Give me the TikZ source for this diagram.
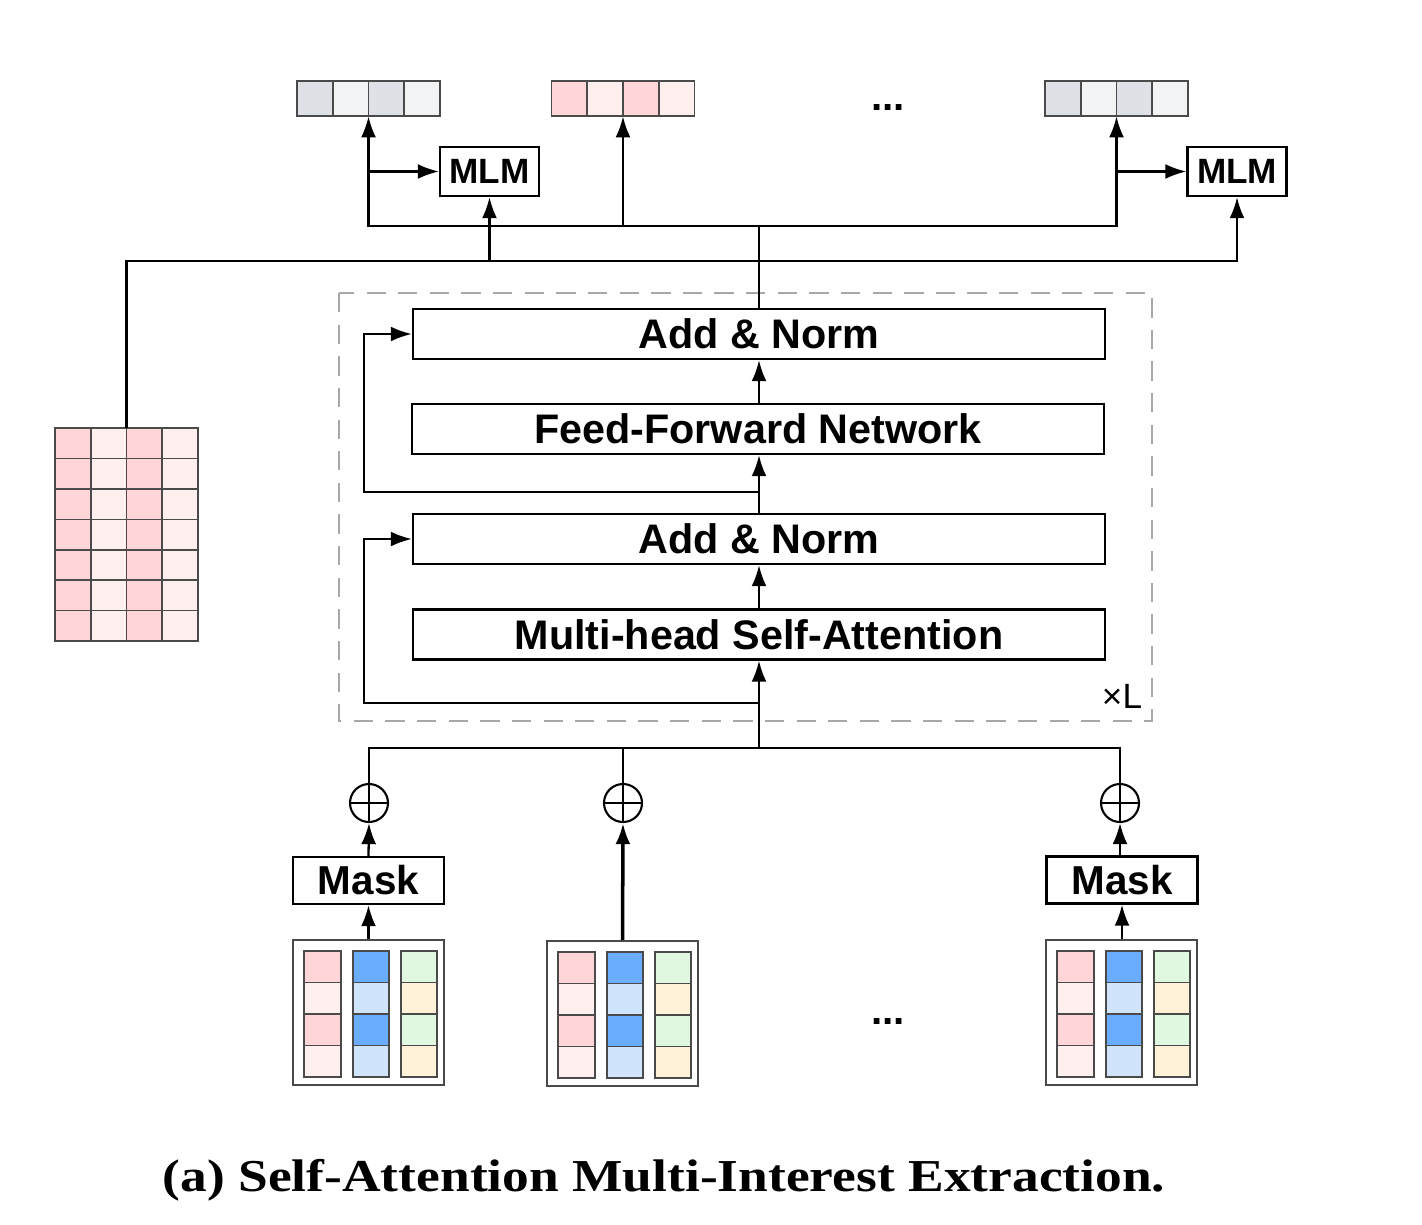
\documentclass[tikz,border=0pt]{standalone}
\usepackage{fontspec}
\setsansfont{Liberation Sans}
\newfontfamily\capfont{Liberation Serif}
\usetikzlibrary{arrows.meta}

\definecolor{grayD}{HTML}{DEE1E6}
\definecolor{grayL}{HTML}{F1F3F4}
\definecolor{pinkD}{HTML}{FFD5D8}
\definecolor{pinkL}{HTML}{FFEFEF}
\definecolor{blueD}{HTML}{6AADFF}
\definecolor{blueL}{HTML}{D0E4FC}
\definecolor{greenL}{HTML}{E1F8E0}
\definecolor{yellowL}{HTML}{FFF2D8}
\definecolor{cellline}{HTML}{4A4A4A}
\definecolor{dashgray}{HTML}{A8A8A8}

\newcommand{\pxu}{0.02cm}

\tikzset{
  wire/.style={line width=1.3pt},
  arr/.style={wire,-{Latex[length=12pt,width=8.5pt]}},
  blk/.style={draw,line width=1.3pt,fill=white,inner sep=0pt,
    font=\sffamily\bfseries\fontsize{23.5}{28}\selectfont,
    minimum width=692*\pxu,minimum height=50*\pxu},
  mlm/.style={draw,line width=1.3pt,fill=white,inner sep=0pt,
    font=\sffamily\bfseries\fontsize{20}{24}\selectfont,
    minimum width=99*\pxu,minimum height=49*\pxu},
  mask/.style={draw,line width=1.3pt,fill=white,inner sep=0pt,
    font=\sffamily\bfseries\fontsize{23}{27}\selectfont,
    minimum width=151*\pxu,minimum height=47*\pxu},
  plus/.style={circle,draw,line width=1.2pt,inner sep=0pt,minimum size=38*\pxu,
    path picture={\draw[line width=1.2pt] (path picture bounding box.north) -- (path picture bounding box.south)
      (path picture bounding box.west) -- (path picture bounding box.east);}},
  cell/.style={draw=cellline,line width=0.9pt},
  tilebox/.style={draw=cellline,line width=0.9pt,fill=white,inner sep=0pt,
    minimum width=151*\pxu,minimum height=145*\pxu},
  vec/.style={inner sep=0pt,minimum width=143*\pxu,minimum height=35*\pxu},
  dots/.style={font=\sffamily\bfseries\fontsize{23}{27}\selectfont}
}

\begin{document}
\begin{tikzpicture}[x=\pxu,y=-\pxu]
  \useasboundingbox (0,0) rectangle (1422,1224);

  % output vectors
  \node[vec] (vecA) at (368.5,98.5) {};
  \node[vec] (vecB) at (623,98.5) {};
  \node[vec] (vecC) at (1116.5,98.5) {};
  \foreach \i/\c in {0/grayD,1/grayL,2/grayD,3/grayL} {
    \draw[cell,fill=\c] (297+\i*35.75,81) rectangle ++(35.75,35);
    \draw[cell,fill=\c] (1045+\i*35.75,81) rectangle ++(35.75,35);
  }
  \foreach \i/\c in {0/pinkD,1/pinkL,2/pinkD,3/pinkL}
    \draw[cell,fill=\c] (551.5+\i*35.75,81) rectangle ++(35.75,35);
  \node[dots] (dotsT) at (888,107) {...};

  \node[mlm] (mlmL) at (489.5,171.5) {MLM};
  \node[mlm] (mlmR) at (1237,171.5) {MLM};

  % item matrix
  \node[inner sep=0pt,minimum width=143*\pxu,minimum height=213*\pxu] (mat) at (126.5,534.5) {};
  \foreach \i/\c in {0/pinkD,1/pinkL,2/pinkD,3/pinkL}
    \foreach \j in {0,...,6}
      \draw[cell,fill=\c] (55+\i*35.75,428+\j*30.43) rectangle ++(35.75,30.43);

  % encoder layer
  \draw[dashgray,line width=1.1pt,dash pattern=on 11pt off 7pt] (339,293) rectangle (1152,721);
  \node[blk] (an2) at (759,334) {Add \& Norm};
  \node[blk] (ffn) at (758,429) {Feed-Forward Network};
  \node[blk] (an1) at (759,539) {Add \& Norm};
  \node[blk] (mhsa) at (759,634.5) {Multi-head Self-Attention};
  \node[font=\sffamily\fontsize{20}{24}\selectfont] (times) at (1122,696) {×L};

  % input tiles
  \foreach \nm/\tx/\ty in {tileL/293/940,tileM/547/941,tileR/1046/940} {
    \node[tilebox] (\nm) at (\tx+75.5,\ty+72.5) {};
    \foreach \j/\ca/\cb/\cc in {0/pinkD/blueD/greenL,1/pinkL/blueL/yellowL,2/pinkD/blueD/greenL,3/pinkL/blueL/yellowL} {
      \draw[cell,fill=\ca] (\tx+11,\ty+11+\j*31.5) rectangle ++(37,31.5);
      \draw[cell,fill=\cb] (\tx+60,\ty+11+\j*31.5) rectangle ++(36,31.5);
      \draw[cell,fill=\cc] (\tx+108,\ty+11+\j*31.5) rectangle ++(36,31.5);
    }
  }
  \node[dots] (dotsB) at (888,1021) {...};

  \node[mask] (maskL) at (368.5,880.5) {Mask};
  \node[mask] (maskR) at (1122,880) {Mask};
  \node[plus] (plusL) at (369,803) {};
  \node[plus] (plusM) at (623,803) {};
  \node[plus] (plusR) at (1120,803) {};

  % bottom connectors
  \draw[arr] (tileL.north) -- (maskL.south);
  \draw[arr] (maskL.north) -- (plusL.south);
  \draw[arr] (tileR.north -| maskR.south) -- (maskR.south);
  \draw[arr] (maskR.north -| plusR.south) -- (plusR.south);
  \draw[arr,line width=2pt] (tileM.north) -- (plusM.south);
  \coordinate (bus) at (759,748);
  \draw[wire] (plusL.north) |- (bus);
  \draw[wire] (plusR.north) |- (bus);
  \draw[wire] (plusM.north) -- (plusM.north |- bus);
  \draw[arr] (bus) -- (mhsa.south);

  % layer connectors
  \coordinate (r1) at (759,703);
  \coordinate (s1) at (364,703);
  \draw[arr] (r1) -- (s1) |- (an1.west);
  \draw[arr] (mhsa.north) -- (an1.south);
  \draw[arr] (an1.north) -- (ffn.south -| an1.north);
  \coordinate (r2) at (759,492);
  \coordinate (s2) at (364,492);
  \draw[arr] (r2) -- (s2) |- (an2.west);
  \draw[arr] (ffn.north -| an2.south) -- (an2.south);

  % top connectors
  \coordinate (tp) at (759,226);
  \draw[wire] (an2.north) -- (tp);
  \draw[arr] (tp) -| (vecA.south);
  \draw[arr] (tp) -| (vecC.south);
  \draw[arr] (tp -| vecB.south) -- (vecB.south);
  \draw[arr] (vecA.south |- mlmL.west) -- (mlmL.west);
  \draw[arr] (vecC.south |- mlmR.west) -- (mlmR.west);
  \coordinate (kb) at (1237,261);
  \draw[arr] (mat.north) |- (kb) -- (mlmR.south);
  \draw[arr] (mlmL.south |- kb) -- (mlmL.south);

  \node[font=\capfont\bfseries\fontsize{26}{31}\selectfont,xscale=1.17] (cap) at (664,1180)
    {(a) Self-Attention Multi-Interest Extraction.};
\end{tikzpicture}
\end{document}
